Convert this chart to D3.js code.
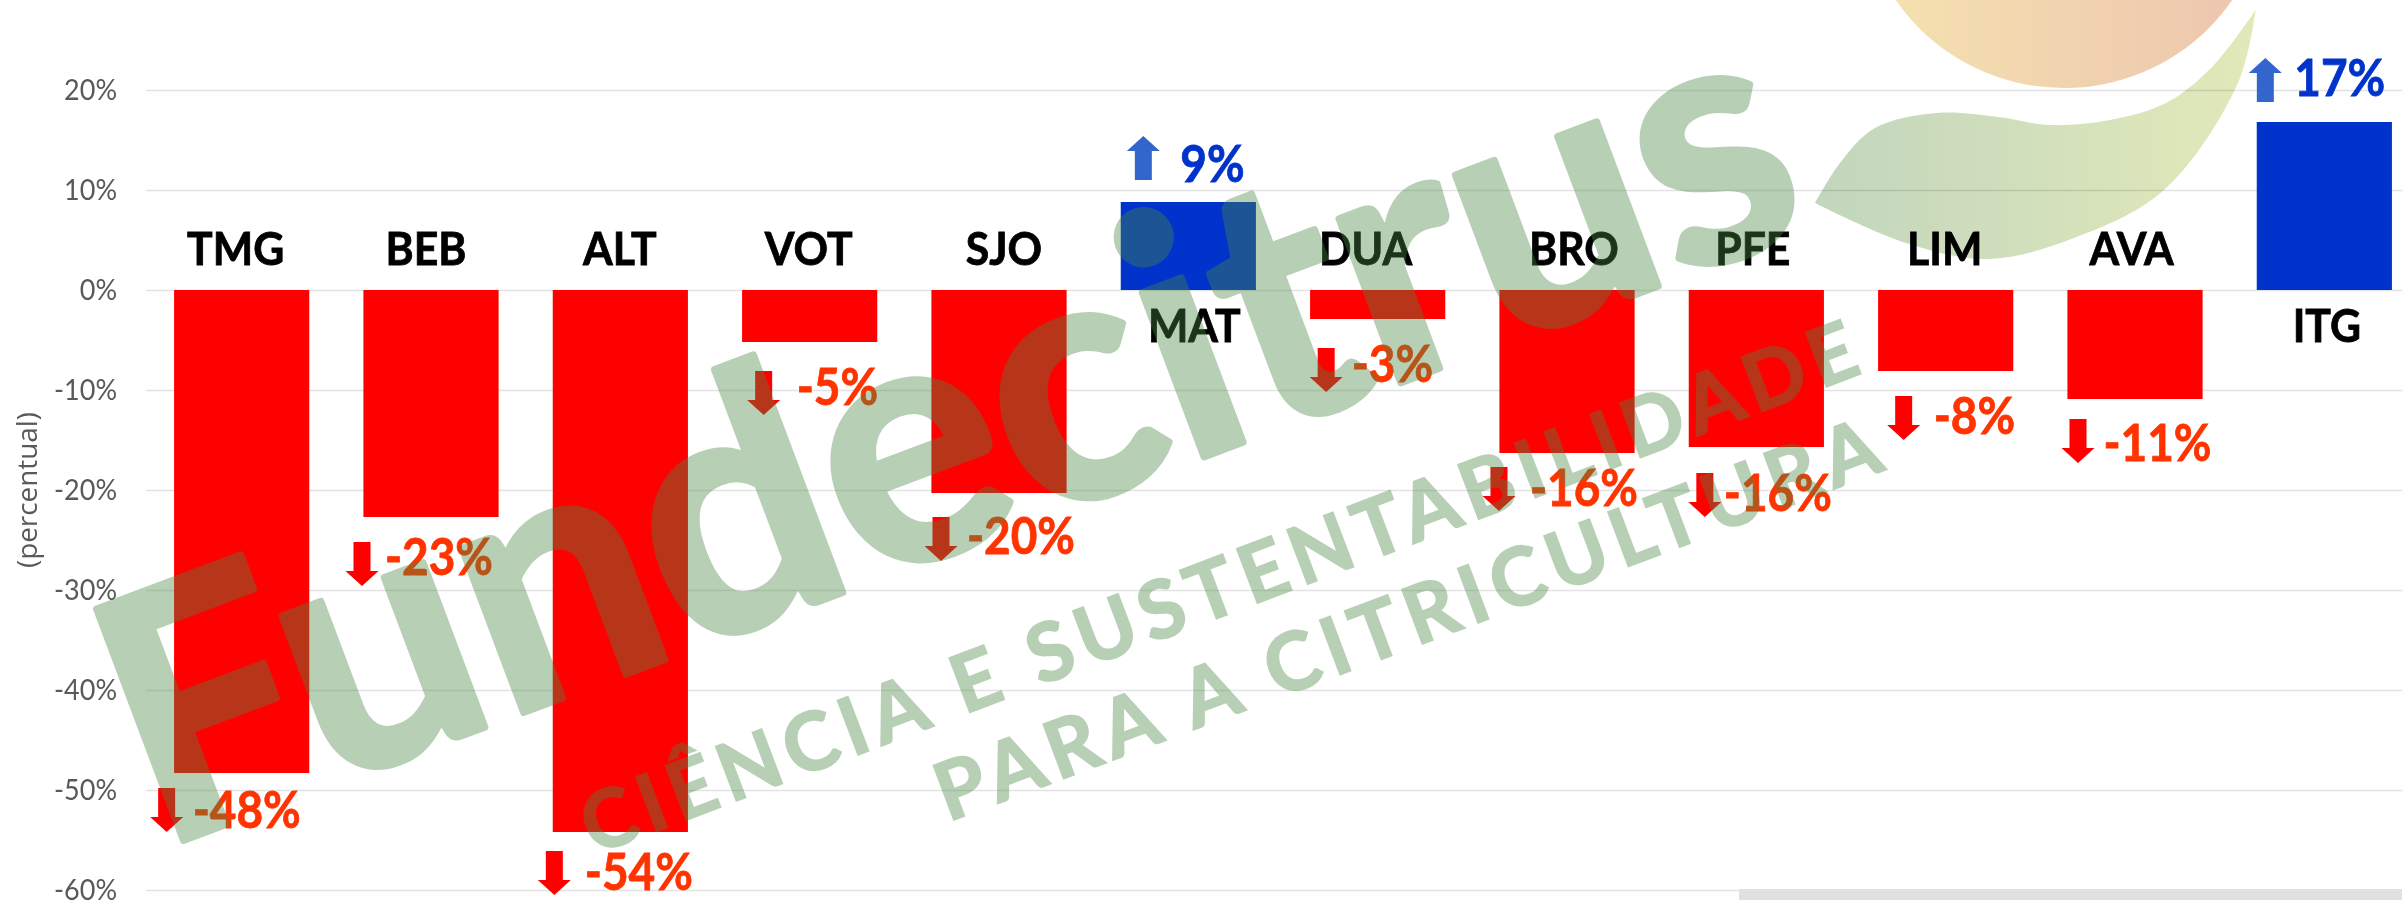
<!DOCTYPE html>
<html><head><meta charset="utf-8">
<script src="https://cdn.jsdelivr.net/npm/d3@7"></script>
<style>html,body{margin:0;padding:0;background:#fff;overflow:hidden}svg{display:block}</style>
</head><body><svg id="c" width="2402" height="900"></svg>
<script>
const categories=["TMG","BEB","ALT","VOT","SJO","MAT","DUA","BRO","PFE","LIM","AVA","ITG"];
const values=[-48.3,-22.7,-54.2,-5.2,-20.3,8.8,-2.9,-16.3,-15.7,-8.1,-10.9,16.8];
const yTicks=[20,10,0,-10,-20,-30,-40,-50,-60];
// annotation nudges (px, relative to each bar)
const arrowDx=[-75,-69,-66,-46,-58,-45,-51.5,-68,-51.5,-42,-57,-59];
const arrowDy=[15,25,19,29,24,-66,29,14,26,25,20,-64];
const valueDx=[-49,-46,-35.5,-13,-32,-8,-26,-37,-32.5,-12,-31.5,-30];
const valueDy=[55,58,58,63,61,-20,63,53,64,63,62,-26];
const catDx=[-6,-5,-.5,-1,5,6,-12,7,-3.5,-1,-3.4,2.5];

const svg=d3.select("#c");
const FONT="Lato, Carlito, sans-serif";
const x=d3.scaleBand().domain(categories).range([147,2419]).paddingInner(.286).paddingOuter(.143);
const y=d3.scaleLinear().domain([20,-60]).range([90,890]);
const cx=d=>x(d)+x.bandwidth()/2;
const squeeze=(sel,k)=>sel.each(function(){this.setAttribute("textLength",this.getComputedTextLength()*k);this.setAttribute("lengthAdjust","spacingAndGlyphs");});

// footer strip
svg.append("rect").attr("x",1739).attr("y",889).attr("width",663).attr("height",11).attr("fill","#e1e1e1");

// y axis + grid
const ax=svg.append("g").attr("transform","translate(146,0)")
 .call(d3.axisLeft(y).tickValues(yTicks).tickSize(-2256).tickPadding(29).tickFormat(d=>d+"%"));
ax.select(".domain").remove();
ax.selectAll("line").attr("stroke","#e3e3e3").attr("stroke-width",1.6);
ax.selectAll("text").attr("font-family",FONT).attr("font-size",29).attr("fill","#595959");
squeeze(ax.selectAll("text"),.93);

svg.append("text").text("(percentual)").attr("transform","translate(37,490) rotate(-90)")
 .attr("text-anchor","middle").attr("font-family","'Open Sans', sans-serif").attr("font-size",28).attr("fill","#595959")
 .attr("textLength",156).attr("lengthAdjust","spacingAndGlyphs");

// bars
const rows=categories.map((c,i)=>({c,v:values[i],i}));
svg.append("g").selectAll("rect").data(rows).join("rect")
 .attr("x",d=>x(d.c)).attr("width",x.bandwidth())
 .attr("y",d=>Math.min(y(d.v),y(0))).attr("height",d=>Math.abs(y(d.v)-y(0)))
 .attr("fill",d=>d.v<0?"#ff0000":"#0033cc");

// category labels
const cats=svg.append("g").selectAll("text").data(rows).join("text").text(d=>d.c)
 .attr("x",d=>cx(d.c)+catDx[d.i]).attr("y",d=>y(0)+(d.v<0?-25:52))
 .attr("text-anchor","middle").attr("font-family",FONT).attr("font-weight",700)
 .attr("font-size",45).attr("fill","#000").attr("stroke","#000").attr("stroke-width",.8);
squeeze(cats,.95);

// arrows
const arrowShape=[[-8.5,0],[8.5,0],[8.5,29],[16.5,29],[0,44],[-16.5,29],[-8.5,29]];
svg.append("g").selectAll("path").data(rows).join("path")
 .attr("d",d=>d3.line()(d.v<0?arrowShape:arrowShape.map(p=>[p[0],44-p[1]]))+"Z")
 .attr("transform",d=>`translate(${cx(d.c)+arrowDx[d.i]},${y(d.v)+arrowDy[d.i]})`)
 .attr("fill",d=>d.v<0?"#ff0000":"#3366cc");

// value labels
const fmt=d=>Math.round(d)+"%";
const vals=svg.append("g").selectAll("text").data(rows).join("text").text(d=>fmt(d.v))
 .attr("x",d=>cx(d.c)+valueDx[d.i]).attr("y",d=>y(d.v)+valueDy[d.i])
 .attr("font-family",FONT).attr("font-weight",700).attr("font-size",51)
 .attr("fill",d=>d.v<0?"#ff3300":"#0033cc").attr("stroke",d=>d.v<0?"#ff3300":"#0033cc").attr("stroke-width",.8);
squeeze(vals,.9);

// logo watermark
const defs=svg.append("defs");
const g1=defs.append("linearGradient").attr("id","sun");
g1.append("stop").attr("offset",0).attr("stop-color","#f5e3b0");
g1.append("stop").attr("offset",1).attr("stop-color","#edc4ae");
const g2=defs.append("linearGradient").attr("id","leaf");
g2.append("stop").attr("offset",0).attr("stop-color","#bdd3b8");
g2.append("stop").attr("offset",1).attr("stop-color","#e0e8b4");
svg.append("ellipse").attr("cx",2064).attr("cy",-112).attr("rx",203).attr("ry",200).attr("fill","url(#sun)");
const lower=[[2255.6,10],[2238,83],[2164,190],[2074,238],[1988,259],[1906,243],[1815,203]];
const upper=[[1815,203],[1840,163],[1875,128],[1937,113],[1998,117],[2049,125],[2110,120],[2166,103],[2212,67],[2255.6,10]];
const curve=d3.line().curve(d3.curveCatmullRom);
svg.append("path").attr("d",curve(lower)+curve(upper).replace(/^M[^C]*/,"")+"Z")
 .attr("fill","url(#leaf)").attr("opacity",.93).style("mix-blend-mode","multiply");

const wm=svg.append("g").attr("fill","rgb(73,136,66)").attr("stroke","rgb(73,136,66)").attr("opacity",.39)
 .attr("font-family",FONT).attr("font-weight",700);
wm.append("text").text("Fundecitrus").attr("transform","translate(158,850) rotate(-20.6)")
 .attr("stroke-width",7).attr("stroke-linejoin","round")
 .attr("font-size",342).attr("textLength",1772).attr("lengthAdjust","spacingAndGlyphs");
wm.append("text").text("CIÊNCIA E SUSTENTABILIDADE").attr("transform","translate(594,855) rotate(-20.8)")
 .attr("stroke-width",2).attr("font-size",80).attr("textLength",1358).attr("lengthAdjust","spacing");
wm.append("text").text("PARA A CITRICULTURA").attr("transform","translate(948,822) rotate(-20.6)")
 .attr("stroke-width",2).attr("font-size",80).attr("textLength",1002).attr("lengthAdjust","spacing");
</script></body></html>
